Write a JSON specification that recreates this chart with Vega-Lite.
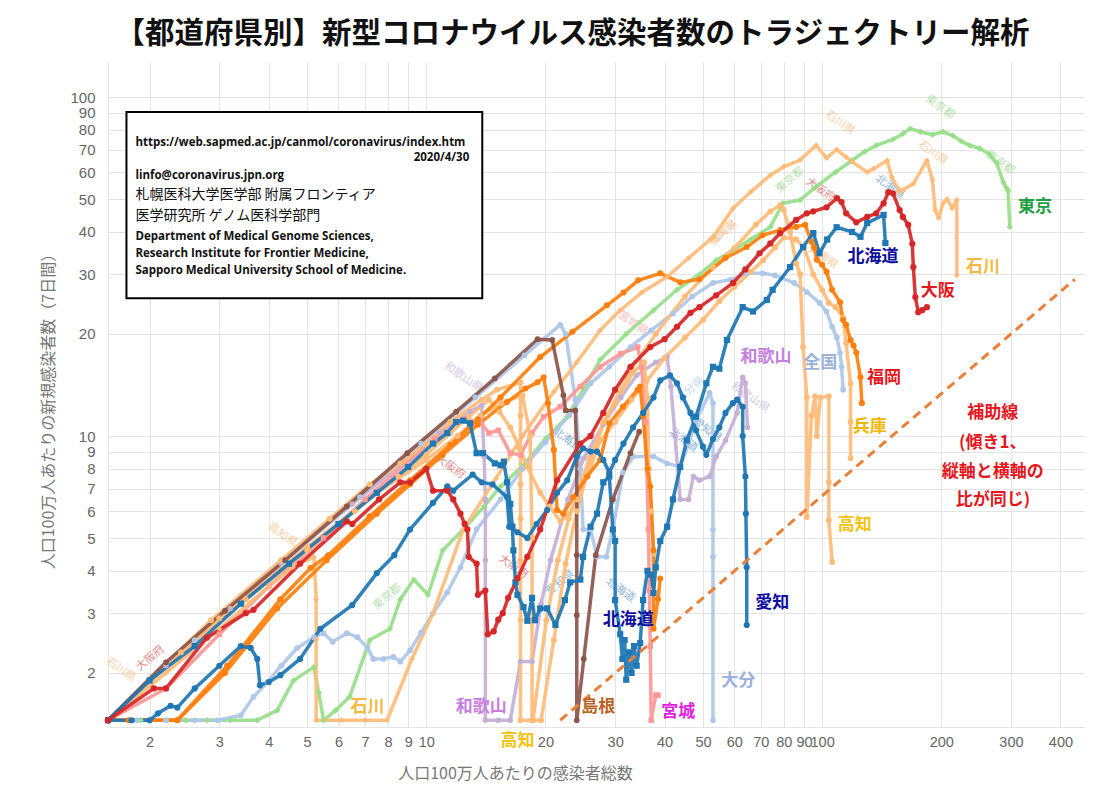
{
"$schema":"https://vega.github.io/schema/vega-lite/v6.json",
"width":977,"height":665,"autosize":"none",
"padding":{"left":108,"top":62,"right":30,"bottom":66},
"background":"white",
"title":{"text":"【都道府県別】新型コロナウイルス感染者数のトラジェクトリー解析","font":"Noto Sans CJK JP","fontSize":29.5,"fontWeight":"bold","color":"#111111","anchor":"middle","dx":-24,"offset":13},
"config":{"view":{"stroke":null}},
"datasets":{
"lines":[
{"s":"東京","x":1.57,"y":1.45},{"s":"東京","x":1.9,"y":1.45},{"s":"東京","x":2.2,"y":1.45},{"s":"東京","x":2.47,"y":1.45},{"s":"東京","x":2.8,"y":1.45},{"s":"東京","x":3.2,"y":1.45},{"s":"東京","x":3.74,"y":1.45},{"s":"東京","x":4.2,"y":1.55},{"s":"東京","x":4.62,"y":1.9},{"s":"東京","x":5.2,"y":2.08},{"s":"東京","x":5.35,"y":1.75},{"s":"東京","x":5.5,"y":1.45},{"s":"東京","x":5.9,"y":1.55},{"s":"東京","x":6.4,"y":1.7},{"s":"東京","x":7.2,"y":2.5},{"s":"東京","x":8.1,"y":2.7},{"s":"東京","x":8.6,"y":3.3},{"s":"東京","x":9.3,"y":3.77},{"s":"東京","x":10.1,"y":3.4},{"s":"東京","x":11,"y":4.6},{"s":"東京","x":12.4,"y":5.3},{"s":"東京","x":14,"y":6.2},{"s":"東京","x":15.4,"y":7.1},{"s":"東京","x":17.6,"y":8.2},{"s":"東京","x":20,"y":9.8},{"s":"東京","x":22.7,"y":11.4},{"s":"東京","x":25,"y":13.8},{"s":"東京","x":27.5,"y":16.8},{"s":"東京","x":32,"y":20},{"s":"東京","x":37.5,"y":23.5},{"s":"東京","x":43,"y":27},{"s":"東京","x":49,"y":30},{"s":"東京","x":54,"y":33},{"s":"東京","x":59.7,"y":35.4},{"s":"東京","x":66,"y":38},{"s":"東京","x":74,"y":41.4},{"s":"東京","x":79.6,"y":48.6},{"s":"東京","x":88,"y":49.7},{"s":"東京","x":96.6,"y":54.4},{"s":"東京","x":108,"y":60},{"s":"東京","x":119,"y":65},{"s":"東京","x":128,"y":69},{"s":"東京","x":137,"y":72},{"s":"東京","x":151,"y":75},{"s":"東京","x":160,"y":78},{"s":"東京","x":167,"y":80.7},{"s":"東京","x":177,"y":79},{"s":"東京","x":190,"y":77.4},{"s":"東京","x":202,"y":79},{"s":"東京","x":214,"y":77},{"s":"東京","x":225,"y":74},{"s":"東京","x":236,"y":72},{"s":"東京","x":250,"y":70.5},{"s":"東京","x":264,"y":68},{"s":"東京","x":276,"y":64},{"s":"東京","x":287,"y":56},{"s":"東京","x":292,"y":54},{"s":"東京","x":295,"y":53},{"s":"東京","x":298,"y":41.4},
{"s":"全国","x":1.86,"y":1.45},{"s":"全国","x":2.2,"y":1.45},{"s":"全国","x":2.6,"y":1.45},{"s":"全国","x":2.97,"y":1.45},{"s":"全国","x":3.4,"y":1.5},{"s":"全国","x":3.66,"y":1.7},{"s":"全国","x":3.97,"y":1.88},{"s":"全国","x":4.3,"y":2.1},{"s":"全国","x":4.72,"y":2.37},{"s":"全国","x":5.2,"y":2.55},{"s":"全国","x":5.5,"y":2.62},{"s":"全国","x":5.8,"y":2.47},{"s":"全国","x":6.3,"y":2.62},{"s":"全国","x":6.7,"y":2.55},{"s":"全国","x":7.1,"y":2.37},{"s":"全国","x":7.35,"y":2.2},{"s":"全国","x":7.8,"y":2.2},{"s":"全国","x":8.25,"y":2.23},{"s":"全国","x":8.6,"y":2.16},{"s":"全国","x":9.1,"y":2.33},{"s":"全国","x":9.7,"y":2.63},{"s":"全国","x":10.4,"y":3.0},{"s":"全国","x":11.3,"y":3.46},{"s":"全国","x":12.2,"y":4.1},{"s":"全国","x":13.4,"y":5.3},{"s":"全国","x":15.4,"y":6.5},{"s":"全国","x":17.5,"y":8.0},{"s":"全国","x":20,"y":9.6},{"s":"全国","x":23,"y":11.5},{"s":"全国","x":26,"y":14.3},{"s":"全国","x":29,"y":16},{"s":"全国","x":32.8,"y":18.3},{"s":"全国","x":37,"y":20.5},{"s":"全国","x":42,"y":23},{"s":"全国","x":47,"y":25.8},{"s":"全国","x":53,"y":28.3},{"s":"全国","x":58.6,"y":28.9},{"s":"全国","x":64.5,"y":30.2},{"s":"全国","x":70.7,"y":30.2},{"s":"全国","x":76,"y":29.8},{"s":"全国","x":85,"y":28.3},{"s":"全国","x":91.5,"y":26.6},{"s":"全国","x":98.5,"y":24.7},{"s":"全国","x":102.6,"y":23.3},{"s":"全国","x":106,"y":21},{"s":"全国","x":109,"y":19.5},{"s":"全国","x":111,"y":17.6},{"s":"全国","x":112,"y":16},{"s":"全国","x":113,"y":13.7},
{"s":"大分","x":1.57,"y":1.45},{"s":"大分","x":2.6,"y":2.5},{"s":"大分","x":4.4,"y":4.3},{"s":"大分","x":6.8,"y":6.6},{"s":"大分","x":9.7,"y":9.5},{"s":"大分","x":13.3,"y":13},{"s":"大分","x":17.7,"y":17.3},{"s":"大分","x":21.8,"y":21.3},{"s":"大分","x":22.5,"y":20},{"s":"大分","x":23.8,"y":12.8},{"s":"大分","x":24.5,"y":8},{"s":"大分","x":24.9,"y":5.3},{"s":"大分","x":26,"y":5.3},{"s":"大分","x":27,"y":4.4},{"s":"大分","x":28.5,"y":4.4},{"s":"大分","x":29.6,"y":5.3},{"s":"大分","x":31.4,"y":7.8},{"s":"大分","x":33.3,"y":8.7},{"s":"大分","x":37.5,"y":8.7},{"s":"大分","x":40.6,"y":8.3},{"s":"大分","x":43.8,"y":8.1},{"s":"大分","x":46,"y":9.5},{"s":"大分","x":48,"y":11.1},{"s":"大分","x":52,"y":13.4},{"s":"大分","x":53,"y":12.5},{"s":"大分","x":53,"y":5.3},{"s":"大分","x":53,"y":4.4},{"s":"大分","x":53,"y":1.45},
{"s":"和歌山","x":1.57,"y":1.45},{"s":"和歌山","x":2.2,"y":2.1},{"s":"和歌山","x":3.2,"y":3.1},{"s":"和歌山","x":4.3,"y":4.2},{"s":"和歌山","x":6.5,"y":6.3},{"s":"和歌山","x":8.6,"y":8.2},{"s":"和歌山","x":10.8,"y":10.2},{"s":"和歌山","x":12.9,"y":11.8},{"s":"和歌山","x":13.8,"y":12.3},{"s":"和歌山","x":14,"y":8.7},{"s":"和歌山","x":14.1,"y":6.5},{"s":"和歌山","x":14.1,"y":4.3},{"s":"和歌山","x":14.1,"y":1.45},{"s":"和歌山","x":15.2,"y":1.45},{"s":"和歌山","x":16.3,"y":1.45},{"s":"和歌山","x":17.3,"y":2.16},{"s":"和歌山","x":18.5,"y":2.16},{"s":"和歌山","x":19.5,"y":3.2},{"s":"和歌山","x":20.6,"y":4.3},{"s":"和歌山","x":22.8,"y":6.5},{"s":"和歌山","x":25,"y":8.6},{"s":"和歌山","x":28,"y":10.8},{"s":"和歌山","x":31,"y":13},{"s":"和歌山","x":34,"y":15.1},{"s":"和歌山","x":38,"y":16.5},{"s":"和歌山","x":40.6,"y":17.1},{"s":"和歌山","x":41.5,"y":14},{"s":"和歌山","x":42.5,"y":10},{"s":"和歌山","x":43.8,"y":6.5},{"s":"和歌山","x":46,"y":6.5},{"s":"和歌山","x":47.3,"y":7.6},{"s":"和歌山","x":49,"y":7.4},{"s":"和歌山","x":52,"y":7.6},{"s":"和歌山","x":54,"y":8.7},{"s":"和歌山","x":57,"y":9.7},{"s":"和歌山","x":61,"y":11.7},{"s":"和歌山","x":63,"y":14.9},{"s":"和歌山","x":64,"y":14.3},{"s":"和歌山","x":64.8,"y":10.6},
{"s":"宮城","x":1.57,"y":1.45},{"s":"宮城","x":2.2,"y":1.8},{"s":"宮城","x":3,"y":2.6},{"s":"宮城","x":4,"y":3.6},{"s":"宮城","x":5.5,"y":5},{"s":"宮城","x":7,"y":6.5},{"s":"宮城","x":8.8,"y":8.2},{"s":"宮城","x":10.5,"y":9.8},{"s":"宮城","x":12.4,"y":11.2},{"s":"宮城","x":13.7,"y":11},{"s":"宮城","x":14.4,"y":10.2},{"s":"宮城","x":15.2,"y":10.4},{"s":"宮城","x":16.3,"y":8.9},{"s":"宮城","x":17.3,"y":8.8},{"s":"宮城","x":18.5,"y":10.2},{"s":"宮城","x":19.8,"y":11.4},{"s":"宮城","x":21.8,"y":12.2},{"s":"宮城","x":24.5,"y":14},{"s":"宮城","x":27.5,"y":16},{"s":"宮城","x":31,"y":17.5},{"s":"宮城","x":34.2,"y":18.3},{"s":"宮城","x":35,"y":16},{"s":"宮城","x":35.8,"y":11},{"s":"宮城","x":36.4,"y":5.3},{"s":"宮城","x":36.6,"y":3.5},{"s":"宮城","x":36.8,"y":2.4},{"s":"宮城","x":37,"y":1.45},{"s":"宮城","x":38,"y":1.72},{"s":"宮城","x":38.5,"y":1.72},
{"s":"他県2","x":1.57,"y":1.45},{"s":"他県2","x":3,"y":2.9},{"s":"他県2","x":5,"y":4.7},{"s":"他県2","x":7.5,"y":6.8},{"s":"他県2","x":10,"y":8.5},{"s":"他県2","x":12,"y":10},{"s":"他県2","x":13.7,"y":11.5},{"s":"他県2","x":15.5,"y":12.5},{"s":"他県2","x":17.5,"y":13.2},{"s":"他県2","x":18.3,"y":10},{"s":"他県2","x":18.5,"y":5},{"s":"他県2","x":18.5,"y":1.45},{"s":"他県2","x":19.5,"y":1.45},{"s":"他県2","x":21,"y":2.5},{"s":"他県2","x":22.5,"y":4.2},{"s":"他県2","x":24,"y":6},{"s":"他県2","x":26,"y":8.5},{"s":"他県2","x":28,"y":11},{"s":"他県2","x":30,"y":12.5},{"s":"他県2","x":33.3,"y":15.4},{"s":"他県2","x":35.5,"y":16.5},{"s":"他県2","x":36.2,"y":13},{"s":"他県2","x":36.5,"y":8},{"s":"他県2","x":37,"y":6},{"s":"他県2","x":37.5,"y":4.5},
{"s":"石川","x":1.57,"y":1.45},{"s":"石川","x":2.2,"y":2.0},{"s":"石川","x":3,"y":2.7},{"s":"石川","x":4,"y":3.6},{"s":"石川","x":4.6,"y":4.1},{"s":"石川","x":5.2,"y":4.4},{"s":"石川","x":5.27,"y":3.3},{"s":"石川","x":5.27,"y":2.5},{"s":"石川","x":5.27,"y":1.45},{"s":"石川","x":6.1,"y":1.45},{"s":"石川","x":7,"y":1.45},{"s":"石川","x":7.96,"y":1.45},{"s":"石川","x":9.2,"y":2.2},{"s":"石川","x":10.4,"y":3},{"s":"石川","x":12.4,"y":5.3},{"s":"石川","x":15,"y":7.5},{"s":"石川","x":17.5,"y":10},{"s":"石川","x":21,"y":13.5},{"s":"石川","x":24,"y":16.5},{"s":"石川","x":27.5,"y":20.5},{"s":"石川","x":30.9,"y":23.5},{"s":"石川","x":35,"y":26.5},{"s":"石川","x":40.6,"y":29.5},{"s":"石川","x":46,"y":33.5},{"s":"石川","x":53,"y":38.6},{"s":"石川","x":59.6,"y":47},{"s":"石川","x":66,"y":52.5},{"s":"石川","x":74,"y":58.8},{"s":"石川","x":80,"y":62.3},{"s":"石川","x":88,"y":65.2},{"s":"石川","x":96.6,"y":72.1},{"s":"石川","x":102.6,"y":66.1},{"s":"石川","x":108.8,"y":70},{"s":"石川","x":115,"y":66.5},{"s":"石川","x":119,"y":64.5},{"s":"石川","x":130,"y":60},{"s":"石川","x":135,"y":61.5},{"s":"石川","x":146,"y":65},{"s":"石川","x":150,"y":58},{"s":"石川","x":157,"y":52.6},{"s":"石川","x":170,"y":55.5},{"s":"石川","x":184,"y":65},{"s":"石川","x":190,"y":57},{"s":"石川","x":193,"y":46.4},{"s":"石川","x":197,"y":44},{"s":"石川","x":202,"y":48.6},{"s":"石川","x":207,"y":50},{"s":"石川","x":213,"y":47},{"s":"石川","x":219,"y":49.7},{"s":"石川","x":219,"y":29.8},
{"s":"兵庫","x":1.57,"y":1.45},{"s":"兵庫","x":2.4,"y":2.3},{"s":"兵庫","x":3.5,"y":3.3},{"s":"兵庫","x":5,"y":4.6},{"s":"兵庫","x":6.6,"y":6},{"s":"兵庫","x":8.5,"y":7.6},{"s":"兵庫","x":10,"y":8.8},{"s":"兵庫","x":11.5,"y":10.2},{"s":"兵庫","x":12.8,"y":11.4},{"s":"兵庫","x":14.4,"y":12.8},{"s":"兵庫","x":15.3,"y":11.8},{"s":"兵庫","x":16.3,"y":10.6},{"s":"兵庫","x":17.2,"y":9.2},{"s":"兵庫","x":18,"y":8.1},{"s":"兵庫","x":19.4,"y":6.8},{"s":"兵庫","x":20.5,"y":6.2},{"s":"兵庫","x":21.8,"y":5.6},{"s":"兵庫","x":23,"y":5.9},{"s":"兵庫","x":24,"y":6.5},{"s":"兵庫","x":25.5,"y":7.6},{"s":"兵庫","x":27.5,"y":9.7},{"s":"兵庫","x":30,"y":11},{"s":"兵庫","x":33,"y":12.8},{"s":"兵庫","x":36,"y":14.5},{"s":"兵庫","x":40,"y":17},{"s":"兵庫","x":45,"y":19.5},{"s":"兵庫","x":50,"y":22},{"s":"兵庫","x":55,"y":25},{"s":"兵庫","x":60,"y":27.5},{"s":"兵庫","x":66,"y":30.5},{"s":"兵庫","x":71,"y":33},{"s":"兵庫","x":76,"y":36},{"s":"兵庫","x":80,"y":38.5},{"s":"兵庫","x":86,"y":38},{"s":"兵庫","x":90,"y":36},{"s":"兵庫","x":95,"y":30},{"s":"兵庫","x":100,"y":27},{"s":"兵庫","x":104,"y":24.7},{"s":"兵庫","x":108,"y":24},{"s":"兵庫","x":113,"y":22.4},{"s":"兵庫","x":115,"y":18.8},{"s":"兵庫","x":118,"y":14.3},{"s":"兵庫","x":118,"y":11},{"s":"兵庫","x":118,"y":8.6},
{"s":"高知","x":1.57,"y":1.45},{"s":"高知","x":2.86,"y":2.86},{"s":"高知","x":4.3,"y":4.3},{"s":"高知","x":5.7,"y":5.7},{"s":"高知","x":7.2,"y":7.2},{"s":"高知","x":8.6,"y":8.3},{"s":"高知","x":10,"y":9.5},{"s":"高知","x":11.5,"y":11},{"s":"高知","x":13.8,"y":12.8},{"s":"高知","x":15.1,"y":13.7},{"s":"高知","x":17.3,"y":14.4},{"s":"高知","x":17.3,"y":11.5},{"s":"高知","x":17.3,"y":7.2},{"s":"高知","x":17.3,"y":5.7},{"s":"高知","x":17.3,"y":4.3},{"s":"高知","x":17.3,"y":2.86},{"s":"高知","x":17.3,"y":1.45},{"s":"高知","x":18.6,"y":1.45},{"s":"高知","x":20.1,"y":2.86},{"s":"高知","x":21.5,"y":4.3},{"s":"高知","x":22.9,"y":5.7},{"s":"高知","x":25.8,"y":8.6},{"s":"高知","x":28.7,"y":11.5},{"s":"高知","x":33,"y":15.8},{"s":"高知","x":38,"y":20},{"s":"高知","x":45,"y":25.8},{"s":"高知","x":53,"y":31.5},{"s":"高知","x":60,"y":35.8},{"s":"高知","x":68,"y":42},{"s":"高知","x":74,"y":46},{"s":"高知","x":78.4,"y":48},{"s":"高知","x":80,"y":46.5},{"s":"高知","x":83,"y":40},{"s":"高知","x":86,"y":32.3},{"s":"高知","x":88,"y":30},{"s":"高知","x":89.5,"y":18.3},{"s":"高知","x":91.5,"y":13},{"s":"高知","x":91.5,"y":5.77},{"s":"高知","x":94,"y":11.5},{"s":"高知","x":96,"y":13.1},{"s":"高知","x":97,"y":10},{"s":"高知","x":99,"y":13},{"s":"高知","x":104,"y":13.1},{"s":"高知","x":104,"y":7.3},{"s":"高知","x":104,"y":5.65},{"s":"高知","x":106,"y":4.25},
{"s":"他県","x":1.57,"y":1.45},{"s":"他県","x":2.35,"y":1.45},{"s":"他県","x":3.1,"y":2},{"s":"他県","x":4.2,"y":3.1},{"s":"他県","x":5.6,"y":4.3},{"s":"他県","x":7.5,"y":5.9},{"s":"他県","x":9.1,"y":7.2},{"s":"他県","x":11,"y":8.8},{"s":"他県","x":13.5,"y":10.8},{"s":"他県","x":16,"y":12.6},{"s":"他県","x":17.8,"y":13.8},{"s":"他県","x":19.1,"y":14.4},{"s":"他県","x":19.8,"y":14.9},{"s":"他県","x":20.3,"y":12.5},{"s":"他県","x":21,"y":9.1},{"s":"他県","x":21.4,"y":6.05},{"s":"他県","x":22.2,"y":5.9},{"s":"他県","x":23.5,"y":6.6},{"s":"他県","x":25.5,"y":7.6},{"s":"他県","x":27.5,"y":8.5},{"s":"他県","x":29,"y":10.9},{"s":"他県","x":31.4,"y":12.2},{"s":"他県","x":34.2,"y":13.7},{"s":"他県","x":34.7,"y":14},{"s":"他県","x":35.3,"y":11.5},{"s":"他県","x":36.2,"y":8},{"s":"他県","x":36.8,"y":7.1},{"s":"他県","x":37.5,"y":4.6},{"s":"他県","x":37.5,"y":2.7},{"s":"他県","x":38.5,"y":3.3},{"s":"他県","x":39,"y":3.8},
{"s":"福岡","x":1.57,"y":1.45},{"s":"福岡","x":1.77,"y":1.45},{"s":"福岡","x":2.35,"y":1.45},{"s":"福岡","x":3.14,"y":2.1},{"s":"福岡","x":4.28,"y":3.3},{"s":"福岡","x":5.1,"y":4.08},{"s":"福岡","x":5.65,"y":4.45},{"s":"福岡","x":7.2,"y":5.8},{"s":"福岡","x":9.1,"y":7.4},{"s":"福岡","x":11.5,"y":9.4},{"s":"福岡","x":13.5,"y":11.2},{"s":"福岡","x":15.4,"y":13},{"s":"福岡","x":19.4,"y":17.1},{"s":"福岡","x":23.4,"y":20.3},{"s":"福岡","x":28.6,"y":24.3},{"s":"福岡","x":31.5,"y":26.5},{"s":"福岡","x":34.3,"y":28.8},{"s":"福岡","x":39,"y":30.2},{"s":"福岡","x":43.8,"y":28.4},{"s":"福岡","x":49,"y":29},{"s":"福岡","x":57,"y":33.5},{"s":"福岡","x":64.5,"y":36.1},{"s":"福岡","x":70.7,"y":39.1},{"s":"福岡","x":78.4,"y":40.5},{"s":"福岡","x":86,"y":41.4},{"s":"福岡","x":90.6,"y":42},{"s":"福岡","x":94,"y":37.4},{"s":"福岡","x":95.5,"y":36},{"s":"福岡","x":97,"y":33.1},{"s":"福岡","x":100,"y":32},{"s":"福岡","x":102.6,"y":30.5},{"s":"福岡","x":106,"y":27},{"s":"福岡","x":111,"y":24.8},{"s":"福岡","x":113,"y":22},{"s":"福岡","x":115,"y":21.3},{"s":"福岡","x":118,"y":19.2},{"s":"福岡","x":120,"y":18.5},{"s":"福岡","x":122,"y":17.6},{"s":"福岡","x":125,"y":14.9},{"s":"福岡","x":126,"y":12.5},
{"s":"島根","x":1.57,"y":1.45},{"s":"島根","x":2.2,"y":2.15},{"s":"島根","x":3.1,"y":3.05},{"s":"島根","x":4.4,"y":4.3},{"s":"島根","x":6.3,"y":6.2},{"s":"島根","x":8.95,"y":8.9},{"s":"島根","x":11.9,"y":11.8},{"s":"島根","x":14.9,"y":14.8},{"s":"島根","x":19.1,"y":19.3},{"s":"島根","x":20.8,"y":19.2},{"s":"島根","x":22.2,"y":13.2},{"s":"島根","x":22.5,"y":11.9},{"s":"島根","x":23.8,"y":11.9},{"s":"島根","x":24,"y":8.9},{"s":"島根","x":24,"y":4.45},{"s":"島根","x":24,"y":2.96},{"s":"島根","x":24,"y":1.45},{"s":"島根","x":25,"y":2.2},{"s":"島根","x":26.8,"y":4.45},{"s":"島根","x":29.6,"y":6.5},{"s":"島根","x":32.8,"y":8.9},{"s":"島根","x":34.5,"y":10.3},
{"s":"愛知","x":1.57,"y":1.45},{"s":"愛知","x":1.8,"y":1.45},{"s":"愛知","x":2,"y":1.45},{"s":"愛知","x":2.1,"y":1.52},{"s":"愛知","x":2.26,"y":1.6},{"s":"愛知","x":2.35,"y":1.58},{"s":"愛知","x":2.6,"y":1.8},{"s":"愛知","x":3,"y":2.1},{"s":"愛知","x":3.4,"y":2.4},{"s":"愛知","x":3.6,"y":2.37},{"s":"愛知","x":3.74,"y":2.2},{"s":"愛知","x":3.8,"y":1.84},{"s":"愛知","x":4,"y":1.88},{"s":"愛知","x":4.28,"y":1.97},{"s":"愛知","x":4.8,"y":2.2},{"s":"愛知","x":5.4,"y":2.7},{"s":"愛知","x":6.5,"y":3.17},{"s":"愛知","x":7.5,"y":3.94},{"s":"愛知","x":8.3,"y":4.45},{"s":"愛知","x":9.1,"y":5.3},{"s":"愛知","x":10.4,"y":6.35},{"s":"愛知","x":11.3,"y":7.1},{"s":"愛知","x":11.7,"y":6.9},{"s":"愛知","x":13.1,"y":7.7},{"s":"愛知","x":13.8,"y":7.3},{"s":"愛知","x":14.7,"y":7.2},{"s":"愛知","x":16,"y":6.6},{"s":"愛知","x":16.2,"y":5.4},{"s":"愛知","x":17,"y":5.2},{"s":"愛知","x":18,"y":5},{"s":"愛知","x":19,"y":5.5},{"s":"愛知","x":20.2,"y":6.05},{"s":"愛知","x":21.4,"y":6.8},{"s":"愛知","x":22.7,"y":7.4},{"s":"愛知","x":24,"y":8.7},{"s":"愛知","x":24.9,"y":9.2},{"s":"愛知","x":26,"y":9},{"s":"愛知","x":27,"y":9},{"s":"愛知","x":28,"y":8.5},{"s":"愛知","x":29,"y":7.8},{"s":"愛知","x":30,"y":8.5},{"s":"愛知","x":31.5,"y":9.5},{"s":"愛知","x":33.3,"y":10.6},{"s":"愛知","x":35.3,"y":11.7},{"s":"愛知","x":37.5,"y":13},{"s":"愛知","x":39,"y":14.6},{"s":"愛知","x":41.3,"y":15.1},{"s":"愛知","x":43,"y":14.3},{"s":"愛知","x":44.5,"y":13},{"s":"愛知","x":46.5,"y":11.7},{"s":"愛知","x":48,"y":10.4},{"s":"愛知","x":50,"y":9.3},{"s":"愛知","x":51,"y":8.8},{"s":"愛知","x":53,"y":9.8},{"s":"愛知","x":55,"y":10.6},{"s":"愛知","x":57,"y":11.7},{"s":"愛知","x":59.5,"y":12.5},{"s":"愛知","x":61,"y":12.8},{"s":"愛知","x":63,"y":12.2},{"s":"愛知","x":63,"y":10},{"s":"愛知","x":64,"y":7.6},{"s":"愛知","x":64.2,"y":5.9},{"s":"愛知","x":64.5,"y":4.1},{"s":"愛知","x":64.5,"y":2.77},
{"s":"北海道","x":1.57,"y":1.45},{"s":"北海道","x":2,"y":1.9},{"s":"北海道","x":2.6,"y":2.4},{"s":"北海道","x":3.4,"y":3.2},{"s":"北海道","x":4.5,"y":4.2},{"s":"北海道","x":6,"y":5.5},{"s":"北海道","x":7.5,"y":6.8},{"s":"北海道","x":9,"y":8.1},{"s":"北海道","x":10.4,"y":9.5},{"s":"北海道","x":11.3,"y":10.2},{"s":"北海道","x":11.9,"y":11},{"s":"北海道","x":12.4,"y":11.1},{"s":"北海道","x":12.9,"y":10.9},{"s":"北海道","x":13.4,"y":8.9},{"s":"北海道","x":13.9,"y":8.9},{"s":"北海道","x":14.9,"y":8.3},{"s":"北海道","x":15.4,"y":8.2},{"s":"北海道","x":15.7,"y":8.4},{"s":"北海道","x":16,"y":7.3},{"s":"北海道","x":16.3,"y":6.3},{"s":"北海道","x":16.5,"y":5.4},{"s":"北海道","x":16.6,"y":4.6},{"s":"北海道","x":16.8,"y":3.7},{"s":"北海道","x":17,"y":3.4},{"s":"北海道","x":17.6,"y":3.13},{"s":"北海道","x":18,"y":2.85},{"s":"北海道","x":18.5,"y":3.33},{"s":"北海道","x":18.8,"y":2.86},{"s":"北海道","x":19.4,"y":3.1},{"s":"北海道","x":20.2,"y":3.1},{"s":"北海道","x":21.2,"y":2.77},{"s":"北海道","x":22.4,"y":3.28},{"s":"北海道","x":23.1,"y":3.7},{"s":"北海道","x":24.5,"y":3.77},{"s":"北海道","x":24.9,"y":4.4},{"s":"北海道","x":26,"y":5.4},{"s":"北海道","x":27,"y":5.9},{"s":"北海道","x":28,"y":7.3},{"s":"北海道","x":29,"y":7.6},{"s":"北海道","x":29.6,"y":5.3},{"s":"北海道","x":30,"y":4.9},{"s":"北海道","x":30,"y":3.28},{"s":"北海道","x":30.9,"y":2.6},{"s":"北海道","x":31.3,"y":2.2},{"s":"北海道","x":31.7,"y":2.5},{"s":"北海道","x":32,"y":1.91},{"s":"北海道","x":32.5,"y":2.3},{"s":"北海道","x":33,"y":2},{"s":"北海道","x":33.5,"y":2.4},{"s":"北海道","x":34,"y":2.1},{"s":"北海道","x":34.7,"y":2.45},{"s":"北海道","x":35.3,"y":3.28},{"s":"北海道","x":36.2,"y":4},{"s":"北海道","x":37,"y":3.9},{"s":"北海道","x":37.5,"y":3.44},{"s":"北海道","x":38,"y":4.1},{"s":"北海道","x":39,"y":4.9},{"s":"北海道","x":40.6,"y":5.4},{"s":"北海道","x":42,"y":6.5},{"s":"北海道","x":43.8,"y":8.1},{"s":"北海道","x":45.5,"y":9.7},{"s":"北海道","x":48,"y":11.4},{"s":"北海道","x":51,"y":14.3},{"s":"北海道","x":53,"y":16},{"s":"北海道","x":55,"y":15.8},{"s":"北海道","x":57.5,"y":19.2},{"s":"北海道","x":63,"y":24},{"s":"北海道","x":66.9,"y":23.3},{"s":"北海道","x":72.5,"y":25.2},{"s":"北海道","x":75,"y":27},{"s":"北海道","x":83,"y":31.5},{"s":"北海道","x":89.5,"y":36.1},{"s":"北海道","x":95,"y":39.7},{"s":"北海道","x":98.5,"y":34.6},{"s":"北海道","x":103,"y":38},{"s":"北海道","x":108.8,"y":41.3},{"s":"北海道","x":119,"y":40},{"s":"北海道","x":125,"y":38.7},{"s":"北海道","x":130,"y":42.5},{"s":"北海道","x":143,"y":44.9},{"s":"北海道","x":144.5,"y":37.1},
{"s":"大阪","x":1.57,"y":1.45},{"s":"大阪","x":2.05,"y":1.8},{"s":"大阪","x":2.2,"y":1.8},{"s":"大阪","x":2.79,"y":2.54},{"s":"大阪","x":3.5,"y":3},{"s":"大阪","x":3.66,"y":3.07},{"s":"大阪","x":4.8,"y":4.2},{"s":"大阪","x":6.3,"y":5.6},{"s":"大阪","x":6.5,"y":5.5},{"s":"大阪","x":7.6,"y":6.5},{"s":"大阪","x":8.6,"y":7.3},{"s":"大阪","x":9.1,"y":7.3},{"s":"大阪","x":10,"y":8},{"s":"大阪","x":10.4,"y":6.9},{"s":"大阪","x":11.3,"y":6.9},{"s":"大阪","x":11.7,"y":6.5},{"s":"大阪","x":12.2,"y":5.9},{"s":"大阪","x":12.5,"y":5.5},{"s":"大阪","x":12.7,"y":5.3},{"s":"大阪","x":12.8,"y":4.4},{"s":"大阪","x":13.4,"y":4.2},{"s":"大阪","x":13.5,"y":3.4},{"s":"大阪","x":14.1,"y":3.5},{"s":"大阪","x":14.3,"y":2.6},{"s":"大阪","x":14.8,"y":2.65},{"s":"大阪","x":15.2,"y":2.87},{"s":"大阪","x":15.6,"y":3},{"s":"大阪","x":16.1,"y":3.33},{"s":"大阪","x":17,"y":3.8},{"s":"大阪","x":18,"y":4.4},{"s":"大阪","x":19.4,"y":5.3},{"s":"大阪","x":21.4,"y":7.4},{"s":"大阪","x":24.5,"y":9.5},{"s":"大阪","x":26,"y":10},{"s":"大阪","x":28,"y":11.7},{"s":"大阪","x":30,"y":13.7},{"s":"大阪","x":32.8,"y":16},{"s":"大阪","x":36.8,"y":18.3},{"s":"大阪","x":40,"y":19.3},{"s":"大阪","x":43,"y":21},{"s":"大阪","x":46.5,"y":23.1},{"s":"大阪","x":49,"y":24},{"s":"大阪","x":54,"y":26},{"s":"大阪","x":59.6,"y":28.3},{"s":"大阪","x":64,"y":31},{"s":"大阪","x":69.5,"y":34.6},{"s":"大阪","x":74,"y":37},{"s":"大阪","x":78.4,"y":39.7},{"s":"大阪","x":86,"y":43.4},{"s":"大阪","x":91.5,"y":45.4},{"s":"大阪","x":95,"y":46},{"s":"大阪","x":102.6,"y":47.3},{"s":"大阪","x":109,"y":50.3},{"s":"大阪","x":112,"y":49},{"s":"大阪","x":115,"y":45.4},{"s":"大阪","x":122,"y":42.7},{"s":"大阪","x":130,"y":44.3},{"s":"大阪","x":137,"y":45.4},{"s":"大阪","x":143,"y":48.6},{"s":"大阪","x":147,"y":52.4},{"s":"大阪","x":151,"y":52},{"s":"大阪","x":157,"y":46.4},{"s":"大阪","x":160,"y":44.3},{"s":"大阪","x":165,"y":42},{"s":"大阪","x":169,"y":36.9},{"s":"大阪","x":170,"y":31.5},{"s":"大阪","x":172,"y":25.7},{"s":"大阪","x":175,"y":23.2},{"s":"大阪","x":179,"y":23.5},{"s":"大阪","x":184,"y":24}
],
"guide":[{"x":21.8,"y":1.45},{"x":435,"y":29}],
"labels":[
{"s":"東京","t":"東京","x":345,"y":47.4},{"s":"北海道","t":"北海道","x":134.5,"y":33.7},{"s":"石川","t":"石川","x":255,"y":31.5},{"s":"大阪","t":"大阪","x":196,"y":26.8},{"s":"福岡","t":"福岡","x":143.4,"y":14.8},{"s":"和歌山","t":"和歌山","x":72.2,"y":17.1},{"s":"全国","t":"全国","x":98.9,"y":16.4},{"s":"兵庫","t":"兵庫","x":132,"y":10.6},{"s":"高知","t":"高知","x":121,"y":5.46},{"s":"愛知","t":"愛知","x":74.8,"y":3.22},{"s":"北海道","t":"北海道","x":32.4,"y":2.87},{"s":"大分","t":"大分","x":61.4,"y":1.89},{"s":"石川","t":"石川","x":7.1,"y":1.59},{"s":"和歌山","t":"和歌山","x":13.77,"y":1.59},{"s":"島根","t":"島根","x":27.2,"y":1.59},{"s":"宮城","t":"宮城","x":43.3,"y":1.53},{"s":"高知","t":"高知","x":17,"y":1.26},
{"s":"補助線","t":"補助線","x":270,"y":11.7},{"s":"補助線","t":"(傾き1、","x":270,"y":9.54},{"s":"補助線","t":"縦軸と横軸の","x":270,"y":7.83},{"s":"補助線","t":"比が同じ)","x":270,"y":6.47}
],
"faint":[
{"s":"大阪","t":"大阪府","x":2.01,"y":2.21,"d":"up"},{"s":"東京","t":"東京都","x":7.97,"y":3.35,"d":"up"},{"s":"大分","t":"大分県","x":46.4,"y":13.7,"d":"up"},{"s":"福岡","t":"福岡県","x":56.2,"y":39.7,"d":"up"},{"s":"東京","t":"東京都","x":83,"y":56.9,"d":"up"},{"s":"愛知","t":"愛知県","x":21.8,"y":3.69,"d":"up"},
{"s":"石川","t":"石川県","x":1.69,"y":2.04,"d":"dn"},{"s":"高知","t":"高知県","x":4.33,"y":5.1,"d":"dn"},{"s":"和歌山","t":"和歌山県","x":12.4,"y":14.9,"d":"dn"},{"s":"大阪","t":"大阪府","x":11.5,"y":8.1,"d":"dn"},{"s":"北海道","t":"北海道","x":22.7,"y":9.73,"d":"dn"},{"s":"大阪","t":"大阪府","x":16.6,"y":4.11,"d":"dn"},{"s":"北海道","t":"北海道","x":30.9,"y":3.51,"d":"dn"},{"s":"愛知","t":"愛知県","x":51.2,"y":10.4,"d":"dn"},{"s":"和歌山","t":"和歌山県","x":65.8,"y":13,"d":"dn"},{"s":"東京","t":"東京都","x":198.6,"y":93.4,"d":"dn"},{"s":"東京","t":"東京都","x":281.5,"y":63.9,"d":"dn"},{"s":"石川","t":"石川県","x":111,"y":83.8,"d":"dn"},{"s":"石川","t":"石川県","x":190.7,"y":68.4,"d":"dn"},{"s":"大阪","t":"大阪府","x":98.9,"y":53.2,"d":"dn"},{"s":"北海道","t":"北海道","x":148.5,"y":54.3,"d":"dn"},{"s":"兵庫","t":"兵庫県","x":100.6,"y":33.7,"d":"dn"},{"s":"宮城","t":"宮城県","x":33.3,"y":21.5,"d":"dn"},{"s":"北海道","t":"北海道","x":44.6,"y":9.73,"d":"dn"}
],
"box":[{"x":1.748,"x2":13.85,"y":90.3,"y2":25.5}],
"boxtext":[
{"k":"en","t":"https://web.sapmed.ac.jp/canmol/coronavirus/index.htm","x":1.842,"y":73.2},
{"k":"date","t":"2020/4/30","x":12.84,"y":66.1},
{"k":"en","t":"linfo@coronavirus.jpn.org","x":1.842,"y":58.5},
{"k":"ja","t":"札幌医科大学医学部 附属フロンティア","x":1.842,"y":51.4},
{"k":"ja","t":"医学研究所 ゲノム医科学部門","x":1.842,"y":44.6},
{"k":"en","t":" Department of Medical Genome Sciences,","x":1.842,"y":38.6},
{"k":"en","t":"Research Institute for Frontier Medicine,","x":1.842,"y":34.4},
{"k":"en","t":"Sapporo Medical University School of Medicine.","x":1.842,"y":30.7}
]
},
"encoding":{
"x":{"field":"x","type":"quantitative","scale":{"type":"log","domain":[1.57,461.5],"nice":false},
"axis":{"title":"人口100万人あたりの感染者総数","values":[2,3,4,5,6,7,8,9,10,20,30,40,50,60,70,80,90,100,200,300,400],"format":"d","labelFont":"Liberation Sans","labelFontSize":14.5,"labelColor":"#666666","grid":true,"gridColor":"#e4e4e4","ticks":false,"domain":true,"domainColor":"#e4e4e4","labelPadding":8,"labelOverlap":false,"labelFlush":false,"titleFont":"Noto Sans CJK JP","titleFontSize":16,"titleFontWeight":"normal","titleColor":"#777777","titleX":407,"titleY":46,"titleAlign":"center","titleBaseline":"middle"}},
"y":{"field":"y","type":"quantitative","scale":{"type":"log","domain":[1.385,126.9],"nice":false},
"axis":{"title":"人口100万人あたりの新規感染者数（7日間）","values":[2,3,4,5,6,7,8,9,10,20,30,40,50,60,70,80,90,100],"format":"d","labelFont":"Liberation Sans","labelFontSize":15,"labelColor":"#666666","grid":true,"gridColor":"#e4e4e4","ticks":false,"domain":true,"domainColor":"#e4e4e4","labelPadding":13,"labelOverlap":false,"labelFlush":false,"titleFont":"Noto Sans CJK JP","titleFontSize":16,"titleFontWeight":"normal","titleColor":"#777777","titleX":-60,"titleY":345,"titleAlign":"center","titleBaseline":"middle","titleAngle":-90}}
},
"layer":[
{"data":{"name":"faint"},"transform":[{"filter":"datum.d==='up'"}],"mark":{"type":"text","angle":320,"fontSize":11,"font":"Noto Sans CJK JP","opacity":0.55},
"encoding":{"text":{"field":"t"},"color":{"field":"s","type":"nominal","legend":null,"scale":{"domain":["東京","大阪","北海道","愛知","福岡","他県","石川","高知","兵庫","島根","全国","大分","和歌山","宮城"],"range":["#7cc96c","#d62728","#1f77b4","#1f77b4","#ff7f0e","#ff7f0e","#f5a855","#f5a855","#f5a855","#8c564b","#8fb0dc","#8fb0dc","#b59ccc","#ff8a88"]}}}},
{"data":{"name":"faint"},"transform":[{"filter":"datum.d==='dn'"}],"mark":{"type":"text","angle":35,"fontSize":11,"font":"Noto Sans CJK JP","opacity":0.55},
"encoding":{"text":{"field":"t"},"color":{"field":"s","type":"nominal","legend":null,"scale":{"domain":["東京","大阪","北海道","愛知","福岡","他県","石川","高知","兵庫","島根","全国","大分","和歌山","宮城"],"range":["#7cc96c","#d62728","#1f77b4","#1f77b4","#ff7f0e","#ff7f0e","#f5a855","#f5a855","#f5a855","#8c564b","#8fb0dc","#8fb0dc","#b59ccc","#ff8a88"]}}}},
{"data":{"name":"lines"},"mark":{"type":"line","opacity":0.93,"strokeJoin":"round"},
"encoding":{"order":{"value":null},"color":{"field":"s","type":"nominal","legend":null,"scale":{"domain":["東京","大阪","北海道","愛知","福岡","他県","他県2","石川","高知","兵庫","島根","全国","大分","和歌山","宮城"],"range":["#98df8a","#d62728","#1f77b4","#1f77b4","#ff7f0e","#ff7f0e","#ffbb78","#ffbb78","#ffbb78","#ffbb78","#8c564b","#aec7e8","#aec7e8","#c5b0d5","#ff9896"]}},
"strokeWidth":{"field":"s","type":"nominal","legend":null,"scale":{"domain":["東京","大阪","北海道","愛知","福岡","他県","他県2","石川","高知","兵庫","島根","全国","大分","和歌山","宮城"],"range":[3.5,3.5,4,4,5,3.5,3,4,4.5,3.5,4.5,4,4,4,3.5]}}}},
{"data":{"name":"lines"},"mark":{"type":"point","filled":true,"opacity":1},
"encoding":{"color":{"field":"s","type":"nominal","legend":null,"scale":{"domain":["東京","大阪","北海道","愛知","福岡","他県","他県2","石川","高知","兵庫","島根","全国","大分","和歌山","宮城"],"range":["#98df8a","#d62728","#1f77b4","#1f77b4","#ff7f0e","#ff7f0e","#ffbb78","#ffbb78","#ffbb78","#ffbb78","#8c564b","#aec7e8","#aec7e8","#c5b0d5","#ff9896"]}},
"shape":{"field":"s","type":"nominal","legend":null,"scale":{"domain":["東京","大阪","北海道","愛知","福岡","他県","他県2","石川","高知","兵庫","島根","全国","大分","和歌山","宮城"],"range":["diamond","circle","square","circle","circle","circle","circle","diamond","circle","circle","circle","circle","circle","circle","square"]}},
"size":{"field":"s","type":"nominal","legend":null,"scale":{"domain":["東京","大阪","北海道","愛知","福岡","他県","他県2","石川","高知","兵庫","島根","全国","大分","和歌山","宮城"],"range":[40,30,30,35,100,35,30,35,90,45,90,65,55,50,45]}}}},
{"data":{"name":"guide"},"mark":{"type":"line","color":"#ec7f37","strokeWidth":3,"strokeDash":[9,6]},"encoding":{}},
{"data":{"name":"labels"},"mark":{"type":"text","font":"Noto Sans CJK JP","fontWeight":"bold","fontSize":17,"align":"center","baseline":"middle"},
"encoding":{"text":{"field":"t"},"color":{"field":"s","type":"nominal","legend":null,"scale":{"domain":["東京","北海道","石川","大阪","福岡","和歌山","全国","兵庫","高知","愛知","大分","島根","宮城","補助線"],"range":["#1e9e40","#0d0da0","#f3b93d","#e5161c","#e5161c","#c47fe0","#9bb0da","#f2b600","#f2c20f","#0d0da0","#9bb0da","#bb6326","#e21ee2","#e5161c"]}}}},
{"data":{"name":"box"},"mark":{"type":"rect","fill":"white","stroke":"black","strokeWidth":2},"encoding":{"x2":{"field":"x2"},"y2":{"field":"y2"}}},
{"data":{"name":"boxtext"},"transform":[{"filter":"datum.k==='en'"}],"mark":{"type":"text","align":"left","baseline":"middle","font":"Open Sans","fontWeight":"bold","fontSize":11.5,"color":"#111111"},"encoding":{"text":{"field":"t"}}},
{"data":{"name":"boxtext"},"transform":[{"filter":"datum.k==='date'"}],"mark":{"type":"text","align":"right","baseline":"middle","font":"Open Sans","fontWeight":"bold","fontSize":11.5,"color":"#111111"},"encoding":{"text":{"field":"t"}}},
{"data":{"name":"boxtext"},"transform":[{"filter":"datum.k==='ja'"}],"mark":{"type":"text","align":"left","baseline":"middle","font":"Noto Sans CJK JP","fontWeight":"normal","fontSize":14,"color":"#111111"},"encoding":{"text":{"field":"t"}}}
],
"resolve":{"scale":{"color":"independent","shape":"independent","size":"independent","strokeWidth":"independent"}}
}
